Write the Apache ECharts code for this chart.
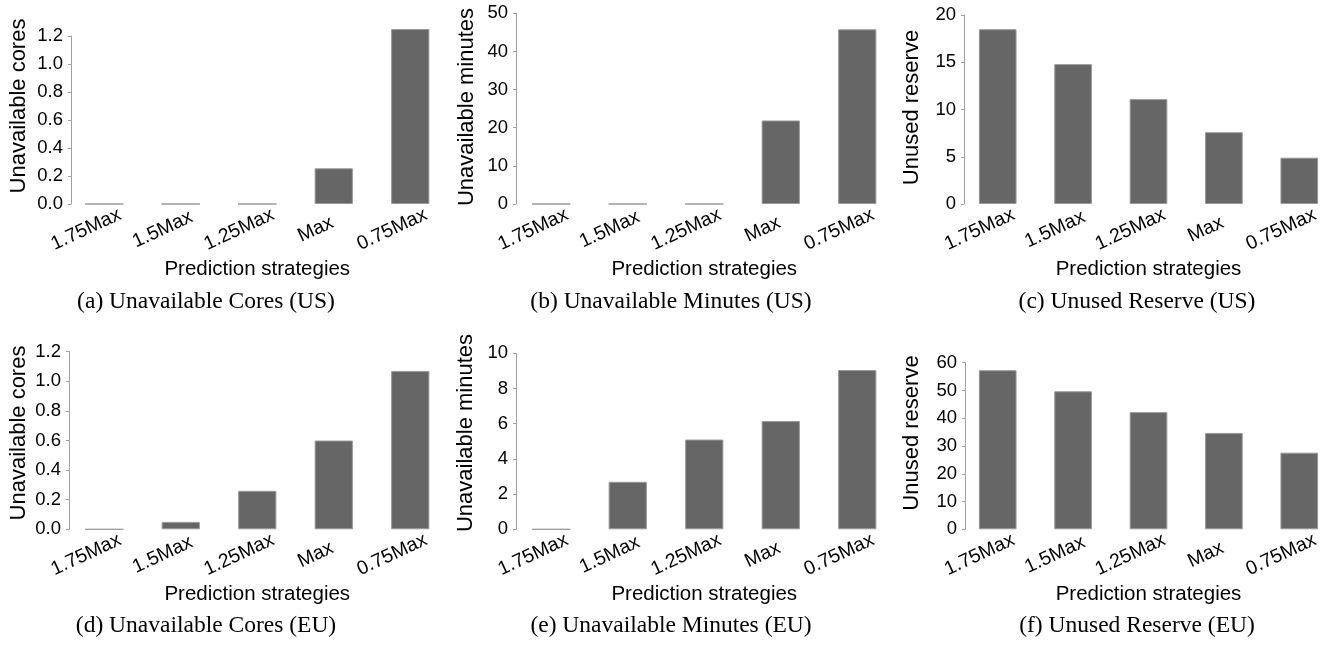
<!DOCTYPE html>
<html>
<head>
<meta charset="utf-8">
<script src="https://cdn.jsdelivr.net/npm/echarts@6/dist/echarts.min.js"></script>
<style>
  html, body { margin: 0; padding: 0; background: #fff; }
  #chart { width: 1337px; height: 645px; }
</style>
</head>
<body>
<div id="chart"></div>
<script>
// Prediction strategies on the x axis of every panel
const categories = ['1.75Max', '1.5Max', '1.25Max', 'Max', '0.75Max'];

// US region
const coresUS = [0, 0, 0, 0.255, 1.25];
const minutesUS = [0, 0, 0, 21.9, 45.8];
const reserveUS = [18.5, 14.8, 11.1, 7.6, 4.9];

// EU region
const coresEU = [0, 0.05, 0.26, 0.6, 1.07];
const minutesEU = [0, 2.7, 5.1, 6.15, 9.05];
const reserveEU = [57.3, 49.7, 42.2, 34.7, 27.6];

// y-axis ranges: [max, interval, decimals]
const yRanges = [[1.2, 0.2, 1], [50, 10, 0], [20, 5, 0], [1.2, 0.2, 1], [10, 2, 0], [60, 10, 0]];

const xTitle = 'Prediction strategies';
const yTitles = ['Unavailable cores', 'Unavailable minutes', 'Unused reserve',
                 'Unavailable cores', 'Unavailable minutes', 'Unused reserve'];
const captions = ['(a) Unavailable Cores (US)', '(b) Unavailable Minutes (US)', '(c) Unused Reserve (US)',
                  '(d) Unavailable Cores (EU)', '(e) Unavailable Minutes (EU)', '(f) Unused Reserve (EU)'];

const panelData = [coresUS, minutesUS, reserveUS, coresEU, minutesEU, reserveEU];

// panel geometry (px)
const grids = [
  { left: 66,  top: 36,    height: 168,   axisShift: -5 },
  { left: 513, top: 13.3,  height: 190.7, axisShift: -3 },
  { left: 960, top: 15,    height: 189,   axisShift: -4 },
  { left: 66,  top: 351.7, height: 177.6, axisShift: -3 },
  { left: 513, top: 353.3, height: 176,   axisShift: -3 },
  { left: 960, top: 362.7, height: 166.6, axisShift: -5 }
];
const gridWidth = 382.5;
const yTitlePos = [[19, 106], [467, 107], [912, 107.5], [19, 433], [466, 433], [912, 433]];
const captionPos = [[206, 302], [671, 302], [1137, 302], [206, 626], [671, 626], [1137, 626]];

const sans = 'Liberation Sans, Arial, sans-serif';
const serif = 'Liberation Serif, Times New Roman, serif';

const chart = echarts.init(document.getElementById('chart'), null, { renderer: 'canvas' });

const option = {
  animation: false,
  backgroundColor: '#ffffff',
  grid: grids.map(g => ({ left: g.left, top: g.top, width: gridWidth, height: g.height, containLabel: false })),
  xAxis: grids.map((g, i) => ({
    type: 'category',
    gridIndex: i,
    data: categories,
    axisLine: { show: false },
    axisTick: { show: false },
    splitLine: { show: false },
    axisLabel: {
      interval: 0,
      rotate: 25,
      align: 'center',
      verticalAlign: 'middle',
      padding: [0, 40, 0, 0],
      margin: 17,
      fontFamily: sans,
      fontSize: 19.5,
      color: '#000'
    },
    name: xTitle,
    nameLocation: 'middle',
    nameGap: 55,
    nameTextStyle: { fontFamily: sans, fontSize: 20.5, color: '#000' }
  })),
  yAxis: grids.map((g, i) => ({
    type: 'value',
    gridIndex: i,
    min: 0,
    max: yRanges[i][0],
    interval: yRanges[i][1],
    offset: g.axisShift,
    axisLine: { show: true, lineStyle: { color: '#a0a0a0', width: 1 } },
    axisTick: { show: true, length: 3, lineStyle: { color: '#a0a0a0' } },
    splitLine: { show: false },
    axisLabel: {
      margin: 8,
      fontFamily: sans,
      fontSize: 18.5,
      color: '#000',
      formatter: v => v.toFixed(yRanges[i][2])
    }
  })),
  series: panelData.map((d, i) => ({
    type: 'bar',
    xAxisIndex: i,
    yAxisIndex: i,
    data: d,
    clip: false,
    barWidth: '50%',
    itemStyle: { color: '#666666', borderColor: '#9a9a9a', borderWidth: 1 }
  })),
  graphic: [
    ...yTitles.map((t, i) => ({
      type: 'text',
      x: yTitlePos[i][0],
      y: yTitlePos[i][1],
      rotation: Math.PI / 2,
      style: {
        text: t,
        fontFamily: sans,
        fontSize: 22,
        fill: '#000',
        align: 'center',
        verticalAlign: 'middle'
      }
    })),
    ...captions.map((t, i) => ({
      type: 'text',
      x: captionPos[i][0],
      y: captionPos[i][1],
      style: {
        text: t,
        fontFamily: serif,
        fontSize: 23.5,
        fill: '#000',
        align: 'center',
        verticalAlign: 'middle'
      }
    }))
  ]
};

chart.setOption(option);
</script>
</body>
</html>
